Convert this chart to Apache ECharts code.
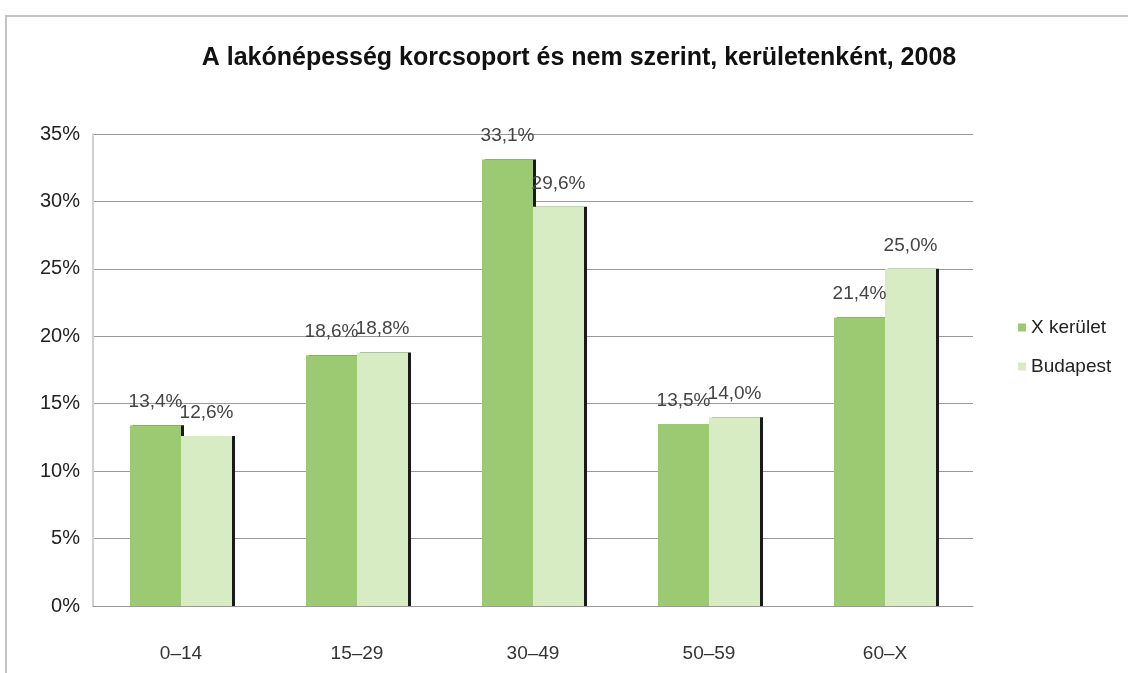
<!DOCTYPE html>
<html>
<head>
<meta charset="utf-8">
<script src="https://cdn.jsdelivr.net/npm/echarts@6/dist/echarts.min.js"></script>
<style>
  html, body { margin: 0; padding: 0; background: #fff; }
  #chart { width: 1128px; height: 673px; }
</style>
</head>
<body>
<div id="chart"></div>
<script>
// korcsoportok
var categories = ['0–14', '15–29', '30–49', '50–59', '60–X'];
var kerulet10 = [13.4, 18.6, 33.1, 13.5, 21.4];
var budapest = [12.6, 18.8, 29.6, 14.0, 25.0];
var yTicks = [0, 5, 10, 15, 20, 25, 30, 35];

var fmt = function (v) { return v.toFixed(1).replace('.', ',') + '%'; };
var font = 'Liberation Sans, Arial, sans-serif';

var myChart = echarts.init(document.getElementById('chart'));

var barStyle = function (color) {
  return {
    color: color,
    shadowColor: '#1a1a1a',
    shadowBlur: 0,
    shadowOffsetX: 3,
    shadowOffsetY: 0
  };
};

var labelStyle = {
  show: true,
  position: 'top',
  distance: 14,
  color: '#444',
  fontSize: 19,
  fontFamily: font,
  formatter: function (p) { return fmt(p.value); }
};

myChart.setOption({
  animation: false,
  backgroundColor: '#fff',
  title: {
    text: 'A lakónépesség korcsoport és nem szerint, kerületenként, 2008',
    left: 574,
    top: 41,
    textAlign: 'center',
    textStyle: {
      fontFamily: font,
      fontWeight: 'bold',
      fontSize: 25,
      color: '#111'
    }
  },
  graphic: [{
    type: 'polyline',
    shape: { points: [[6, 673], [6, 16], [1128, 16]] },
    style: { stroke: '#c4c4c4', lineWidth: 2, fill: null }
  }],
  legend: {
    orient: 'vertical',
    left: 1013,
    top: 313,
    itemWidth: 8,
    itemHeight: 8,
    itemGap: 20,
    icon: 'rect',
    textStyle: {
      fontFamily: font,
      fontSize: 19,
      color: '#222'
    },
    data: ['X kerület', 'Budapest']
  },
  grid: { left: 93, right: 155, top: 134, bottom: 67 },
  xAxis: {
    type: 'category',
    data: categories,
    axisTick: { show: false },
    axisLine: { lineStyle: { color: '#999', width: 1 } },
    axisLabel: {
      margin: 38,
      fontSize: 19,
      color: '#333',
      fontFamily: font
    }
  },
  yAxis: {
    type: 'value',
    min: yTicks[0],
    max: yTicks[yTicks.length - 1],
    interval: yTicks[1] - yTicks[0],
    axisLine: { show: true, lineStyle: { color: '#d0d0d0', width: 2 } },
    axisTick: { show: false },
    splitLine: { lineStyle: { color: '#9a9a9a', width: 1 } },
    axisLabel: {
      margin: 13,
      fontSize: 20,
      color: '#222',
      fontFamily: font,
      formatter: function (v) { return v + '%'; }
    }
  },
  series: [
    {
      name: 'X kerület',
      type: 'bar',
      data: kerulet10,
      barWidth: 51,
      barGap: '0%',
      itemStyle: barStyle('#9bca72'),
      label: labelStyle
    },
    {
      name: 'Budapest',
      type: 'bar',
      data: budapest,
      barWidth: 51,
      barGap: '0%',
      itemStyle: barStyle('#d7ecc3'),
      label: labelStyle
    }
  ]
});
</script>
</body>
</html>
